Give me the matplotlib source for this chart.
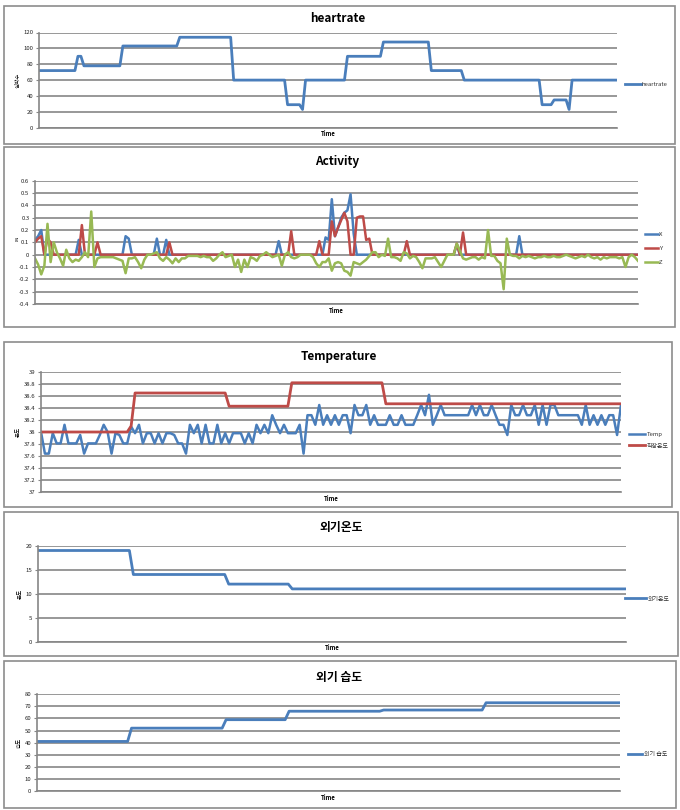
"""
Five stacked sensor charts (heartrate, activity, body temp, outdoor temp/humidity)
redrawn in the old Excel 2007 line-chart look.
"""

import numpy as np
import matplotlib
matplotlib.use("Agg")
import matplotlib.pyplot as plt
from matplotlib.patches import Rectangle

plt.rcParams["font.family"] = ["Noto Sans CJK KR", "DejaVu Sans"]

# ---------------- data ----------------
# heartrate: step levels and how many samples each level lasts
hr_levels = [72, 90, 78, 103, 114, 60, 29, 23, 60, 90, 108, 72, 60, 29, 35, 23, 60]
hr_runs = [13, 2, 13, 19, 18, 18, 5, 1, 14, 12, 16, 11, 26, 4, 5, 1, 16]
hr_yticks = [0, 20, 40, 60, 80, 100, 120]

# activity (g), 194 samples; X and Y are zero except at the listed samples
act_n = 194
act_x_idx = [0, 1, 2, 14, 29, 30, 39, 42, 78, 93, 94, 95, 96, 97, 98, 99, 100,
             101, 102, 135, 155]
act_x_val = [0.12, 0.15, 0.20, 0.12, 0.15, 0.13, 0.13, 0.12, 0.11, 0.14, 0.12,
             0.45, 0.15, 0.22, 0.30, 0.34, 0.36, 0.49, 0.17, 0.08, 0.15]
act_y_idx = [0, 1, 2, 4, 5, 15, 20, 43, 82, 91, 95, 96, 97, 98, 99, 100, 103,
             104, 105, 106, 107, 119, 135, 137]
act_y_val = [0.10, 0.13, 0.15, 0.13, 0.10, 0.24, 0.10, 0.10, 0.19, 0.11, 0.27,
             0.15, 0.22, 0.28, 0.34, 0.27, 0.30, 0.31, 0.31, 0.12, 0.13, 0.11,
             0.09, 0.18]
act_z = [
    -0.03, -0.08, -0.16, -0.09, 0.25, -0.06, 0.10, 0.02, -0.03, -0.09,
    0.04, -0.03, -0.06, -0.04, -0.05, -0.02, 0.02, -0.02, 0.35, -0.10,
    -0.03, -0.02, -0.02, -0.02, -0.02, -0.02, -0.03, -0.04, -0.05, -0.15,
    -0.03, -0.03, -0.02, -0.06, -0.11, -0.04, 0.00, 0.00, 0.01, 0.02,
    -0.03, -0.05, -0.02, -0.04, -0.07, -0.03, -0.06, -0.03, -0.03, -0.01,
    -0.01, -0.01, -0.01, -0.02, -0.01, -0.02, -0.02, -0.05, -0.03, 0.00,
    0.02, -0.02, -0.01, 0.00, -0.10, -0.04, -0.14, -0.04, -0.10, -0.02,
    -0.03, -0.05, -0.01, 0.00, 0.02, 0.00, -0.02, -0.01, 0.00, -0.09,
    0.00, 0.02, -0.02, -0.03, -0.02, 0.00, 0.00, 0.00, 0.00, -0.02,
    -0.07, -0.10, -0.06, -0.06, -0.03, -0.13, -0.07, -0.06, -0.07, -0.13,
    -0.14, -0.17, -0.06, -0.07, -0.08, -0.06, -0.04, -0.01, 0.02, 0.02,
    -0.02, 0.00, -0.01, 0.13, -0.02, -0.02, -0.03, -0.05, 0.02, 0.01,
    -0.03, -0.01, -0.02, -0.06, -0.11, -0.03, -0.03, -0.03, -0.02, -0.06,
    -0.10, -0.05, 0.00, 0.00, 0.00, 0.09, 0.03, -0.03, -0.04, -0.03,
    -0.02, -0.02, -0.04, -0.02, -0.03, 0.20, -0.01, -0.01, -0.05, -0.07,
    -0.28, 0.13, 0.00, -0.01, -0.01, -0.03, -0.01, -0.02, -0.01, -0.02,
    -0.03, -0.02, -0.02, -0.01, -0.02, -0.02, -0.01, -0.02, -0.02, -0.01,
    0.00, -0.01, -0.02, -0.03, -0.02, -0.01, -0.02, 0.00, -0.02, -0.03,
    -0.02, -0.04, -0.02, -0.03, -0.02, -0.02, -0.02, -0.03, -0.02, -0.10,
    -0.02, 0.00, -0.02, -0.05,
]
act_yticks = [-0.4, -0.3, -0.2, -0.1, 0, 0.1, 0.2, 0.3, 0.4, 0.5, 0.6]
act_ylabels = ["-0.4", "-0.3", "-0.2", "-0.1", "0", "0.1", "0.2", "0.3", "0.4", "0.5", "0.6"]

# body temperature (149 samples) and the rectal reference as steps
temp = [
    38.00, 37.64, 37.64, 37.98, 37.81, 37.81, 38.12, 37.81, 37.81, 37.81,
    37.95, 37.64, 37.81, 37.81, 37.81, 37.95, 38.12, 38.00, 37.64, 37.98,
    37.95, 37.81, 37.81, 38.09, 37.98, 38.12, 37.81, 37.98, 37.98, 37.81,
    37.98, 37.81, 37.98, 37.98, 37.95, 37.81, 37.81, 37.64, 38.12, 37.98,
    38.12, 37.81, 38.12, 37.81, 37.81, 38.12, 37.81, 37.98, 37.81, 37.98,
    37.98, 37.98, 37.81,
    37.98, 37.81, 38.12, 37.98, 38.12, 37.98, 38.28, 38.12, 37.98, 38.12,
    37.98, 37.98, 37.98, 38.12, 37.64, 38.28, 38.28, 38.12, 38.45, 38.12,
    38.28, 38.12, 38.28, 38.12, 38.28, 38.28, 37.98, 38.45, 38.28, 38.28,
    38.45, 38.12, 38.28, 38.12, 38.12, 38.12, 38.28, 38.12, 38.12, 38.28,
    38.12, 38.12, 38.12, 38.28, 38.45, 38.28, 38.62, 38.12, 38.28, 38.45,
    38.28, 38.28, 38.28, 38.28, 38.28, 38.28, 38.28,
    38.45, 38.28, 38.45, 38.28, 38.28, 38.45, 38.28, 38.12, 38.12, 37.95,
    38.45, 38.28, 38.28, 38.45, 38.28, 38.28, 38.45, 38.12, 38.45, 38.12,
    38.45, 38.45, 38.28, 38.28, 38.28, 38.28, 38.28, 38.28, 38.12, 38.45,
    38.12, 38.28, 38.12, 38.28, 38.12, 38.28, 38.28, 37.95, 38.45,
]
rectal_levels = [38.0, 38.1, 38.65, 38.43, 38.82, 38.47]
rectal_runs = [23, 1, 24, 16, 24, 61]
temp_yticks = [37, 37.2, 37.4, 37.6, 37.8, 38, 38.2, 38.4, 38.6, 38.8, 39]
temp_ylabels = ["37", "37.2", "37.4", "37.6", "37.8", "38", "38.2", "38.4", "38.6", "38.8", "39"]

# outdoor temperature / humidity (same 149 samples)
out_t_levels = [19, 14, 12, 11]
out_t_runs = [24, 24, 16, 85]
out_t_yticks = [0, 5, 10, 15, 20]

out_h_levels = [41, 52, 59, 66, 67, 73]
out_h_runs = [24, 24, 16, 24, 26, 35]
out_h_yticks = [0, 10, 20, 30, 40, 50, 60, 70, 80]

# ---------------- style ----------------
BLUE = "#4A7EBB"
RED = "#BE4B48"
GREEN = "#98B954"
GRID = "#868686"
BORDER = "#8C8C8C"
W, H = 680, 810


def steps(levels, runs):
    return np.repeat(levels, runs)


def sparse(n, idx, val):
    s = np.zeros(n)
    s[idx] = val
    return s


def px_axes(fig, left, right, top, bottom):
    return fig.add_axes([left / W, 1 - bottom / H, (right - left) / W, (bottom - top) / H])


def frame(fig, x0, y0, x1, y1):
    fig.patches.append(Rectangle((x0 / W, 1 - y1 / H), (x1 - x0) / W, (y1 - y0) / H,
                                 transform=fig.transFigure, fill=False,
                                 edgecolor=BORDER, lw=1.2))


def style(ax, n, ylim, yticks, ylabels=None, ylabel="", rot=90):
    ax.set_xlim(0, n - 1)
    ax.set_ylim(*ylim)
    ax.set_yticks(yticks)
    if ylabels is not None:
        ax.set_yticklabels(ylabels)
    ax.set_xticks([])
    ax.yaxis.grid(True, color=GRID, lw=1.2)
    ax.set_axisbelow(True)
    for s in ("top", "right"):
        ax.spines[s].set_visible(False)
    for s in ("left", "bottom"):
        ax.spines[s].set_color(GRID)
        ax.spines[s].set_linewidth(1.2)
    ax.tick_params(axis="y", labelsize=4.3, length=2, width=0.8, color=GRID,
                   pad=2, labelcolor="#222222")
    ax.set_xlabel("Time", fontsize=4.3, fontweight="bold", labelpad=2)
    ax.set_ylabel(ylabel, fontsize=4, rotation=rot, labelpad=2)


def legend(ax, x, y, hl, spacing=1.2):
    ax.legend(loc="center left", bbox_to_anchor=(x, y), frameon=False,
              fontsize=4.3, handlelength=hl, handletextpad=0.2,
              borderpad=0, borderaxespad=0, labelspacing=spacing,
              labelcolor="#333333")


def title(fig, x, y, text):
    fig.text(x / W, 1 - y / H, text, ha="center", va="center",
             fontsize=8.5, fontweight="bold")


fig = plt.figure(figsize=(6.8, 8.1), dpi=100)
fig.patch.set_facecolor("white")

# --- heartrate ---
frame(fig, 4, 6, 675, 144)
title(fig, 338, 18, "heartrate")
hr = steps(hr_levels, hr_runs)
ax = px_axes(fig, 39, 617, 32.5, 127.7)
ax.plot(np.arange(len(hr)), hr, color=BLUE, lw=2.0, label="heartrate")
style(ax, len(hr), (0, 120), hr_yticks, ylabel="심박수")
legend(ax, 1.014, 0.45, 2.6)

# --- activity ---
frame(fig, 4, 147, 675, 327)
title(fig, 337, 162, "Activity")
t = np.arange(act_n)
ax = px_axes(fig, 35, 638, 180.7, 304)
ax.plot(t, sparse(act_n, act_x_idx, act_x_val), color=BLUE, lw=1.8, label="X")
ax.plot(t, sparse(act_n, act_y_idx, act_y_val), color=RED, lw=1.8, label="Y")
ax.plot(t, act_z, color=GREEN, lw=1.8, label="Z")
style(ax, act_n, (-0.4, 0.6), act_yticks, act_ylabels, ylabel="g", rot=0)
legend(ax, 1.012, 0.45, 2.1, spacing=1.5)

# --- temperature ---
frame(fig, 4, 342, 672, 507)
title(fig, 339, 356, "Temperature")
rectal = steps(rectal_levels, rectal_runs)
ax = px_axes(fig, 41, 621, 372, 492)
ax.plot(np.arange(len(temp)), temp, color=BLUE, lw=1.8, label="Temp")
ax.plot(np.arange(len(rectal)), rectal, color=RED, lw=2.0, label="직장온도")
style(ax, len(temp), (37, 39), temp_yticks, temp_ylabels, ylabel="온도")
legend(ax, 1.014, 0.43, 2.7, spacing=1.0)

# --- outdoor temperature ---
frame(fig, 4, 512, 678, 656)
title(fig, 341, 528, "외기온도")
out_t = steps(out_t_levels, out_t_runs)
ax = px_axes(fig, 38, 626, 545.7, 641.7)
ax.plot(np.arange(len(out_t)), out_t, color=BLUE, lw=2.0, label="외기온도")
style(ax, len(out_t), (0, 20), out_t_yticks, ylabel="온도")
legend(ax, 0.998, 0.445, 3.6)

# --- outdoor humidity ---
frame(fig, 4, 661, 676, 808)
title(fig, 339, 678, "외기 습도")
out_h = steps(out_h_levels, out_h_runs)
ax = px_axes(fig, 37, 620, 694.3, 791)
ax.plot(np.arange(len(out_h)), out_h, color=BLUE, lw=2.0, label="외기 습도")
style(ax, len(out_h), (0, 80), out_h_yticks, ylabel="습도")
legend(ax, 1.014, 0.38, 2.4)

fig.savefig("out.png", dpi=100, facecolor="white")
